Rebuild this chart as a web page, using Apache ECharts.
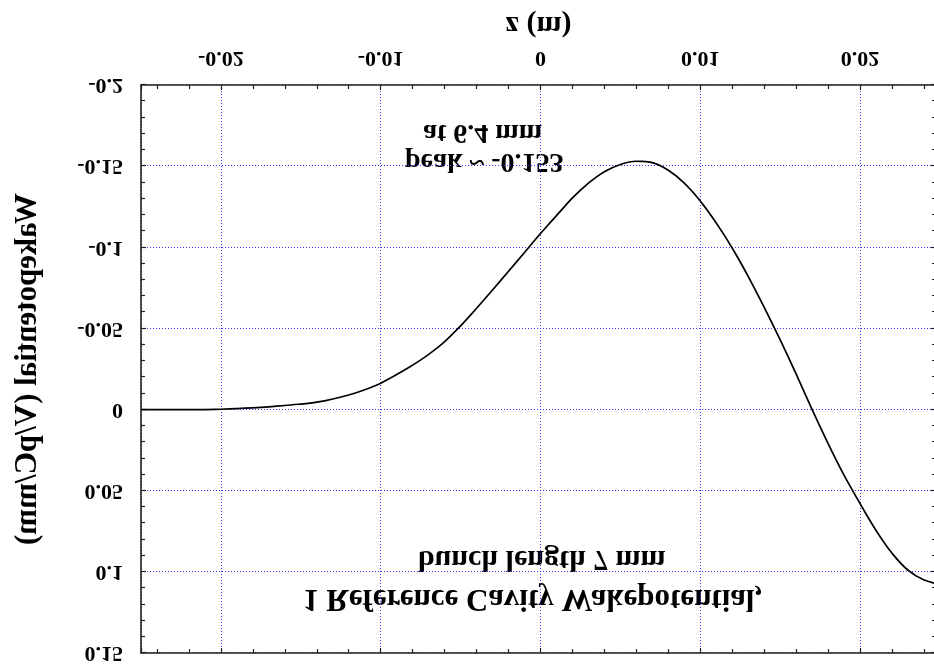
<!DOCTYPE html>
<html>
<head>
<meta charset="utf-8">
<title>Reference Cavity Wakepotential</title>
<script src="https://cdn.jsdelivr.net/npm/echarts@6/dist/echarts.min.js"></script>
<style>
  html, body { margin: 0; padding: 0; background: #fff; }
  #chart { width: 934px; height: 666px; transform: scaleY(-1); transform-origin: 50% 50%; }
</style>
</head>
<body>
<div id="chart"></div>
<script>
// z positions (m), one sample per millimetre
const zValues = [
  -0.025, -0.024, -0.023, -0.022, -0.021, -0.020, -0.019, -0.018, -0.017, -0.016,
  -0.015, -0.014, -0.013, -0.012, -0.011, -0.010, -0.009, -0.008, -0.007, -0.006,
  -0.005, -0.004, -0.003, -0.002, -0.001, 0.000, 0.001, 0.002, 0.003, 0.004,
  0.005, 0.006, 0.007, 0.008, 0.009, 0.010, 0.011, 0.012, 0.013, 0.014,
  0.015, 0.016, 0.017, 0.018, 0.019, 0.020, 0.021, 0.022, 0.023, 0.024, 0.025
];
// wakepotential (V/pC/mm)
const wakeValues = [
  0.0000, 0.0000, 0.0000, 0.0000, 0.0000, -0.0002, -0.0006, -0.0011, -0.0017, -0.0025,
  -0.0034, -0.0046, -0.0065, -0.0090, -0.0122, -0.0162, -0.0216, -0.0274, -0.0340, -0.0418,
  -0.0516, -0.0624, -0.0737, -0.0852, -0.0968, -0.1085, -0.1195, -0.1305, -0.1395, -0.1465,
  -0.1510, -0.1530, -0.1522, -0.1475, -0.1395, -0.1285, -0.1150, -0.0995, -0.0820, -0.0630,
  -0.0430, -0.0218, 0.0000, 0.0210, 0.0405, 0.0580, 0.0745, 0.0885, 0.0990, 0.1050, 0.1080
];
const xTickLabels = ['-0.02', '-0.01', '0', '0.01', '0.02'];
const yTickLabels = ['-0.2', '-0.15', '-0.1', '-0.05', '0', '0.05', '0.1', '0.15'];
const noteLines = [
  '1 Reference Cavity Wakepotential,',
  'bunch length 7 mm',
  'peak ~ -0.153',
  'at 6.4 mm'
];

const FONT = '"Liberation Serif", "Times New Roman", serif';
const AXIS_COLOR = '#222';
const GRID_COLOR = '#3a3aff';

function fmtX(v) {
  const r = Math.round(v * 1000) / 1000;
  const s = r === 0 ? '0' : String(r);
  return xTickLabels.indexOf(s) >= 0 ? s : '';
}
function fmtY(v) {
  const r = Math.round(v * 1000) / 1000;
  const s = r === 0 ? '0' : String(r);
  return yTickLabels.indexOf(s) >= 0 ? s : '';
}

const frameAxis = {
  axisLine: { show: true, onZero: false, lineStyle: { color: AXIS_COLOR, width: 1.6 } },
  axisTick: { show: true, inside: true, length: 5, lineStyle: { color: AXIS_COLOR, width: 1.2 } },
  minorTick: { show: true, splitNumber: 5, length: 4, lineStyle: { color: AXIS_COLOR, width: 1.2 } }
};

const chart = echarts.init(document.getElementById('chart'), null, { renderer: 'canvas' });

chart.setOption({
  backgroundColor: '#fff',
  animation: false,
  grid: { left: 141, top: 13, width: 795, height: 568, outerBoundsMode: 'none', containLabel: false },
  xAxis: [
    Object.assign({
      type: 'value',
      min: -0.025, max: 0.02475, splitNumber: 5,
      position: 'bottom',
      name: 'z (m)', nameLocation: 'middle', nameGap: 45,
      nameTextStyle: { fontFamily: FONT, fontWeight: 'bold', fontSize: 30, color: '#000' },
      axisLabel: { show: true, margin: 16, showMinLabel: false, showMaxLabel: false,
        fontFamily: FONT, fontWeight: 'bold', fontSize: 22, color: '#000', formatter: fmtX },
      splitLine: { show: true, lineStyle: { color: GRID_COLOR, width: 1, type: [1, 2] } }
    }, frameAxis),
    Object.assign({
      type: 'value',
      min: -0.025, max: 0.02475, splitNumber: 5,
      position: 'top',
      axisLabel: { show: false },
      splitLine: { show: false }
    }, frameAxis)
  ],
  yAxis: [
    Object.assign({
      type: 'value',
      min: -0.2, max: 0.15, interval: 0.05,
      position: 'left',
      name: 'Wakepotential (V/pC/mm)', nameLocation: 'middle', nameGap: 98, nameRotate: 90,
      nameTextStyle: { fontFamily: FONT, fontWeight: 'bold', fontSize: 31, color: '#000' },
      axisLabel: { show: true, margin: 18, fontFamily: FONT, fontWeight: 'bold', fontSize: 22,
        color: '#000', formatter: fmtY },
      splitLine: { show: true, lineStyle: { color: GRID_COLOR, width: 1, type: [1, 2] } }
    }, frameAxis),
    Object.assign({
      type: 'value',
      min: -0.2, max: 0.15, interval: 0.05,
      position: 'right',
      axisLabel: { show: false },
      splitLine: { show: false }
    }, frameAxis)
  ],
  series: [{
    type: 'line',
    xAxisIndex: 0,
    yAxisIndex: 0,
    data: zValues.map((z, i) => [z, wakeValues[i]]),
    showSymbol: false,
    smooth: 0.25,
    clip: true,
    lineStyle: { color: '#000', width: 1.7 },
    z: 5
  }],
  graphic: [
    { type: 'text', x: 303, y: 68, style: { text: noteLines[0], font: 'bold 31px ' + FONT, fill: '#000', align: 'left', verticalAlign: 'middle' } },
    { type: 'text', x: 418, y: 107, style: { text: noteLines[1], font: 'bold 30px ' + FONT, fill: '#000', align: 'left', verticalAlign: 'middle' } },
    { type: 'text', x: 405, y: 505, style: { text: noteLines[2], font: 'bold 28px ' + FONT, fill: '#000', align: 'left', verticalAlign: 'middle' } },
    { type: 'text', x: 423, y: 534, style: { text: noteLines[3], font: 'bold 28px ' + FONT, fill: '#000', align: 'left', verticalAlign: 'middle' } }
  ]
});
</script>
</body>
</html>
